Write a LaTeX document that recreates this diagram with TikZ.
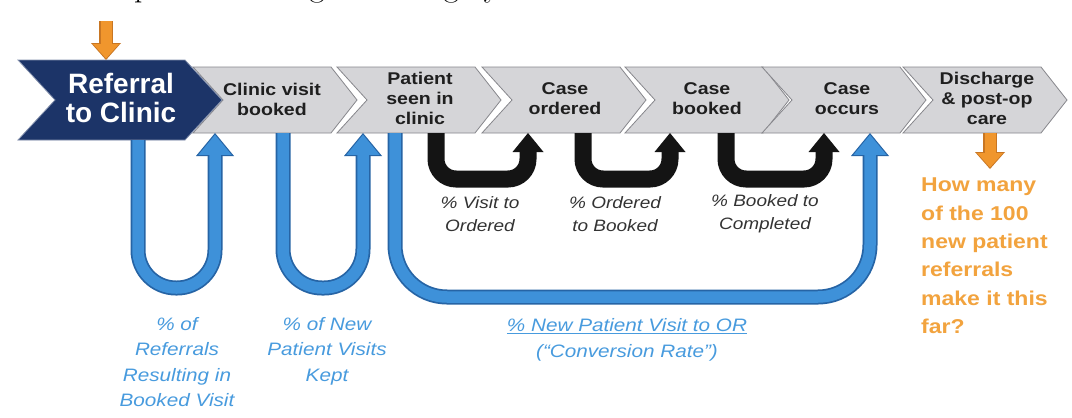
\documentclass[tikz,border=0pt]{standalone}
\usepackage{fontspec}
\setsansfont{Liberation Sans}
\newfontfamily\lab{Liberation Sans}[FakeStretch=1.15]
\usetikzlibrary{arrows.meta}

\definecolor{navy}{RGB}{28,52,104}
\definecolor{chevfill}{RGB}{213,213,216}
\definecolor{chevedge}{RGB}{135,135,140}
\definecolor{bluefill}{RGB}{62,145,217}
\definecolor{blueedge}{RGB}{38,100,165}
\definecolor{bluetext}{RGB}{72,155,222}
\definecolor{orangefill}{RGB}{240,150,45}
\definecolor{orangeedge}{RGB}{200,118,35}
\definecolor{orangetext}{RGB}{242,163,62}

\begin{document}
\begin{tikzpicture}[x=1pt,y=-1pt,
  chev/.style={fill=chevfill, draw=chevedge, line width=0.8pt},
  navychev/.style={fill=navy, draw=navy!55!white, line width=0.8pt},
  stagetext/.style={font=\lab\bfseries\fontsize{17}{20}\selectfont, text=black!88, align=center, inner sep=0},
  ratetext/.style={font=\lab\itshape\fontsize{16.5}{23}\selectfont, text=black!80, align=center, inner sep=0},
  bluelabel/.style={font=\lab\itshape\fontsize{18}{25.5}\selectfont, text=bluetext, align=center, inner sep=0},
  blackflow/.style={line width=17pt, draw=black!92, rounded corners=20pt,
    -{Triangle[width=31pt,length=19pt,line width=0pt]}},
  bluerim/.style={line width=15pt, draw=blueedge,
    -{Triangle[width=38pt,length=23pt,line width=0pt]}},
  bluecore/.style={line width=11.5pt, draw=bluefill, shorten >=1.8pt,
    -{Triangle[width=33pt,length=20pt,line width=0pt]}},
  orangerim/.style={line width=14pt, draw=orangeedge,
    -{Triangle[width=30pt,length=17pt,line width=0pt]}},
  orangecore/.style={line width=11pt, draw=orangefill, shorten >=1.5pt,
    -{Triangle[width=26pt,length=14.5pt,line width=0pt]}}
]
\useasboundingbox (0,0) rectangle (1072,418);
\clip (0,0) rectangle (1072,418);
\fill[white] (0,0) rectangle (1072,418);

% line of body text above the figure, mostly above the top edge
\node[anchor=base west, inner sep=0, font=\fontsize{33}{33}\selectfont] (headline) at (134,-3.5) {patient through the surgery};

% grey process chevrons
\foreach \L in {193,337,482,625,762,903} {
  \draw[chev] (\L,67) -- ++(138,0) -- ++(26,33) -- ++(-26,33) -- ++(-138,0) -- ++(30,-33) -- cycle;
}
% first stage
\draw[navychev] (18,60) -- (185,60) -- (222,100) -- (185,140) -- (18,140) -- (55,100) -- cycle;

% stage labels
\node[font=\sffamily\bfseries\fontsize{28}{29}\selectfont, text=white, align=center, inner sep=0] (ref) at (121,98) {Referral\\to Clinic};
\node[stagetext] (cvb) at (272,99) {Clinic visit\\booked};
\node[stagetext] (psc) at (420,98) {Patient\\seen in\\clinic};
\node[stagetext] (cord) at (565,99) {Case\\ordered};
\node[stagetext] (cbk) at (707,99) {Case\\booked};
\node[stagetext] (cocc) at (847,99) {Case\\occurs};
\node[stagetext] (dis) at (987,98) {Discharge\\\& post-op\\care};

% connector end points on the chevron edges
\coordinate (r1) at (138,140);
\coordinate (c1) at (215,133);
\coordinate (c2) at (283,133);
\coordinate (p1) at (363,133);
\coordinate (p2) at (395,133);
\coordinate (p3) at (436,133);
\coordinate (o1) at (528,133);
\coordinate (o2) at (583,133);
\coordinate (b1) at (670,133);
\coordinate (b2) at (726,133);
\coordinate (x1) at (824,133);
\coordinate (x2) at (870,133);
\coordinate (d1) at (990,133);
\coordinate (d2) at (990,169);
\coordinate (src) at (106,21);
\coordinate (r0) at (106,60);

% step conversion arrows
\draw[blackflow] (p3) -- ++(0,46) -| (o1);
\draw[blackflow] (o2) -- ++(0,46) -| (b1);
\draw[blackflow] (b2) -- ++(0,46) -| (x1);

% blue loops
\draw[bluerim, rounded corners=38pt] (r1) -- ++(0,148) -| (c1);
\draw[bluecore, rounded corners=38pt] (r1) -- ++(0,148) -| (c1);
\draw[bluerim, rounded corners=39pt] (c2) -- ++(0,155) -| (p1);
\draw[bluecore, rounded corners=39pt] (c2) -- ++(0,155) -| (p1);
\draw[bluerim, rounded corners=52pt] (p2) -- ++(0,164) -| (x2);
\draw[bluecore, rounded corners=52pt] (p2) -- ++(0,164) -| (x2);

% orange in / out arrows
\draw[orangerim] (src) -- (r0);
\draw[orangecore] (src) -- (r0);
\draw[orangerim] (d1) -- (d2);
\draw[orangecore] (d1) -- (d2);

% rate labels
\node[ratetext] (rvo) at (480,214) {\% Visit to\\Ordered};
\node[ratetext] (rob) at (615,214) {\% Ordered\\to Booked};
\node[ratetext] (rbc) at (765,214) {\% Booked to\\Completed};

\node[bluelabel] (lref) at (177,362) {\% of\\Referrals\\Resulting in\\Booked Visit};
\node[bluelabel] (lkept) at (327,351) {\% of New\\Patient Visits\\Kept};
\node[bluelabel] (lconv) at (627,340) {\underline{\% New Patient Visit to OR}\\(“Conversion Rate”)};

\node[font=\lab\bfseries\fontsize{20}{28.4}\selectfont, text=orangetext, align=left, inner sep=0, anchor=west] (howmany) at (921,256)
  {How many\\of the 100\\new patient\\referrals\\make it this\\far?};
\end{tikzpicture}
\end{document}
